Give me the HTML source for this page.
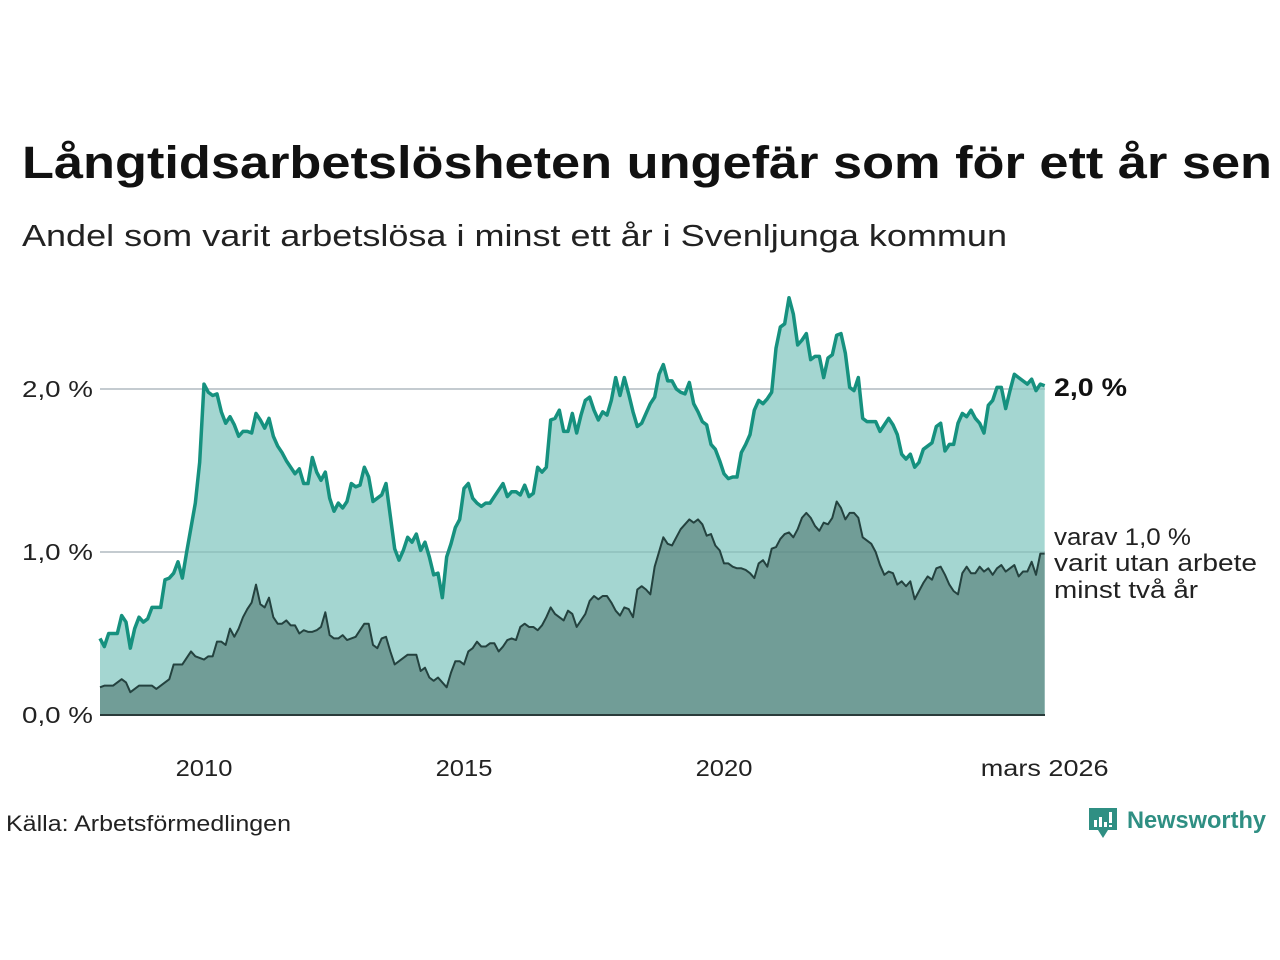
<!DOCTYPE html>
<html><head><meta charset="utf-8"><style>
html,body{margin:0;padding:0;background:#fff;width:1280px;height:960px;overflow:hidden}
svg{display:block;font-family:"Liberation Sans",sans-serif}
</style></head><body>
<svg id="chart" width="1280" height="960" viewBox="0 0 1280 960">
<text x="22" y="178" font-size="45" font-weight="bold" fill="#111" textLength="1250" lengthAdjust="spacingAndGlyphs">Långtidsarbetslösheten ungefär som för ett år sen</text>
<text x="22" y="246" font-size="31" fill="#222" textLength="985" lengthAdjust="spacingAndGlyphs">Andel som varit arbetslösa i minst ett år i Svenljunga kommun</text>
<g id="grid"></g>
<g id="areas"></g>
<g id="yticks"></g>
<g id="xticks"></g>
<text x="1054" y="396" font-size="25" font-weight="bold" fill="#111" textLength="73" lengthAdjust="spacingAndGlyphs">2,0 %</text>
<g font-size="24" fill="#222">
<text x="1054" y="545" textLength="137" lengthAdjust="spacingAndGlyphs">varav 1,0 %</text>
<text x="1054" y="571" textLength="203" lengthAdjust="spacingAndGlyphs">varit utan arbete</text>
<text x="1054" y="598" textLength="144" lengthAdjust="spacingAndGlyphs">minst två år</text>
</g>
<text x="6" y="831" font-size="22" fill="#222" textLength="285" lengthAdjust="spacingAndGlyphs">Källa: Arbetsförmedlingen</text>
<g>
<path d="M1089 808 h28 v22 h-9 l-5 8 l-5 -8 h-9 z" fill="#2f8f83"/>
<rect x="1094" y="820" width="3" height="7" fill="#fff"/><rect x="1099" y="817" width="3" height="10" fill="#fff"/><rect x="1104" y="822" width="3" height="5" fill="#fff"/><rect x="1109" y="812" width="3" height="11" fill="#fff"/><rect x="1109" y="825" width="3" height="2" fill="#fff"/>
<text x="1127" y="828" font-size="24" font-weight="bold" fill="#2f8f83" textLength="139" lengthAdjust="spacingAndGlyphs">Newsworthy</text>
</g>
</svg>
<script>
const startYear = 2008;
const totalValues = [
.47,.42,.50,.50,.50,.61,.57,.41,.53,.60,.57,.59,
.66,.66,.66,.83,.84,.87,.94,.84,1.00,1.15,1.30,1.55,
2.03,1.98,1.96,1.97,1.86,1.79,1.83,1.78,1.71,1.74,1.74,1.73,
1.85,1.81,1.76,1.82,1.71,1.65,1.61,1.56,1.52,1.48,1.51,1.42,
1.42,1.58,1.49,1.44,1.49,1.33,1.25,1.30,1.27,1.31,1.42,1.40,
1.41,1.52,1.46,1.31,1.33,1.35,1.42,1.22,1.02,0.95,1.01,1.09,
1.06,1.11,1.01,1.06,0.97,0.86,0.87,0.72,0.97,1.05,1.15,1.20,
1.39,1.42,1.33,1.30,1.28,1.30,1.30,1.34,1.38,1.42,1.34,1.37,
1.37,1.35,1.41,1.34,1.36,1.52,1.49,1.52,1.81,1.82,1.87,1.74,
1.74,1.85,1.73,1.84,1.93,1.95,1.87,1.81,1.86,1.84,1.93,2.07,
1.96,2.07,1.97,1.86,1.77,1.79,1.85,1.91,1.95,2.09,2.15,2.05,
2.05,2.00,1.98,1.97,2.04,1.91,1.86,1.80,1.78,1.66,1.63,1.56,
1.48,1.45,1.46,1.46,1.61,1.66,1.72,1.87,1.93,1.91,1.94,1.98,
2.25,2.38,2.40,2.56,2.46,2.27,2.30,2.34,2.18,2.20,2.20,2.07,
2.19,2.21,2.33,2.34,2.22,2.01,1.99,2.07,1.82,1.80,1.80,1.80,
1.74,1.78,1.82,1.78,1.72,1.60,1.57,1.60,1.52,1.55,1.63,1.65,
1.67,1.77,1.79,1.62,1.66,1.66,1.79,1.85,1.83,1.87,1.82,1.79,
1.73,1.90,1.93,2.01,2.01,1.88,1.99,2.09,2.07,2.05,2.03,2.06,
1.99,2.03,2.02];
const longValues = [
.17,.18,.18,.18,.20,.22,.20,.14,.16,.18,.18,.18,
.18,.16,.18,.20,.22,.31,.31,.31,.35,.39,.36,.35,
.34,.36,.36,.45,.45,.43,.53,.48,.53,.60,.65,.69,
.80,.68,.66,.72,.60,.56,.56,.58,.55,.55,.50,.52,
.51,.51,.52,.54,.63,.49,.47,.47,.49,.46,.47,.48,
.52,.56,.56,.43,.41,.47,.48,.39,.31,.33,.35,.37,
.37,.37,.27,.29,.23,.21,.23,.20,.17,.26,.33,.33,
.31,.39,.41,.45,.42,.42,.44,.44,.39,.42,.46,.47,
.46,.54,.56,.54,.54,.52,.55,.60,.66,.62,.60,.58,
.64,.62,.54,.58,.62,.70,.73,.71,.73,.73,.69,.64,
.61,.66,.65,.60,.77,.79,.77,.74,.91,1.00,1.09,1.05,
1.04,1.09,1.14,1.17,1.20,1.18,1.20,1.17,1.10,1.11,1.04,1.01,
.93,.93,.91,.90,.90,.89,.87,.84,.93,.95,.91,1.02,
1.03,1.08,1.11,1.12,1.09,1.14,1.21,1.24,1.21,1.16,1.13,1.18,
1.17,1.21,1.31,1.27,1.20,1.24,1.24,1.21,1.09,1.07,1.05,1.00,
.92,.86,.88,.87,.80,.82,.79,.82,.71,.76,.81,.85,
.83,.90,.91,.86,.80,.76,.74,.87,.91,.87,.87,.91,
.88,.90,.86,.90,.92,.88,.90,.92,.85,.88,.88,.94,
.86,.99,.99];
const yTickValues = [0, 1, 2];
const yTickLabels = ["0,0 %", "1,0 %", "2,0 %"];
const xTickPositions = [2010, 2015, 2020, 2026.167];
const xTickLabels = ["2010", "2015", "2020", "mars 2026"];

const NS = "http://www.w3.org/2000/svg";
const X0 = 100, PX_PER_YEAR = 52, Y0 = 715, PX_PER_UNIT = 163;
const xScale = t => X0 + (t - startYear) * PX_PER_YEAR;
const xIdx = i => xScale(startYear + i / 12);
const yScale = v => Y0 - v * PX_PER_UNIT;
function mk(tag, attrs, parent){const e=document.createElementNS(NS,tag);for(const k in attrs)e.setAttribute(k,attrs[k]);parent.appendChild(e);return e;}

const grid = document.getElementById('grid');
const yt = document.getElementById('yticks');
yTickValues.forEach((v, i) => {
  if (v > 0) {
    const gl = mk('line', {x1: X0, x2: 1045, y1: yScale(v), y2: yScale(v), stroke: '#dedde3', 'stroke-width': 2}, grid);
    
    
  }
  const t = mk('text', {x: 93, y: yScale(v) + 8, 'text-anchor': 'end', 'font-size': 23, fill: '#222', textLength: 71, lengthAdjust: 'spacingAndGlyphs'}, yt);
  t.textContent = yTickLabels[i];
  
  
});
const xt = document.getElementById('xticks');
xTickPositions.forEach((p, i) => {
  const w = xTickLabels[i].length * 14.2;
  const t = mk('text', {x: xScale(p), y: 776, 'text-anchor': 'middle', 'font-size': 23, fill: '#222', textLength: w, lengthAdjust: 'spacingAndGlyphs'}, xt);
  t.textContent = xTickLabels[i];
  
  
});

const areas = document.getElementById('areas');
function linePts(vals){return vals.map((v,i)=>xIdx(i).toFixed(2)+','+yScale(v).toFixed(2)).join(' ');}
function areaPts(vals){return xIdx(0)+','+Y0+' '+linePts(vals)+' '+xIdx(vals.length-1)+','+Y0;}
const a1 = mk('polygon', {points: areaPts(totalValues), fill: '#a4d6d1'}, areas);


const a2 = mk('polygon', {points: areaPts(longValues), fill: '#719d97'}, areas);


yTickValues.forEach(v => {
  if (v > 0) {
    const gl = mk('line', {x1: X0, x2: 1045, y1: yScale(v), y2: yScale(v), stroke: 'rgba(80,120,120,0.18)', 'stroke-width': 2}, areas);
    
    
  }
});
const l2 = mk('polyline', {points: linePts(longValues), fill: 'none', stroke: '#24423f', 'stroke-width': 2, 'stroke-linejoin': 'round'}, areas);


const l1 = mk('polyline', {points: linePts(totalValues), fill: 'none', stroke: '#16917f', 'stroke-width': 3.5, 'stroke-linejoin': 'round'}, areas);


const base = mk('line', {x1: X0, x2: 1045, y1: Y0, y2: Y0, stroke: '#2a3b3a', 'stroke-width': 2}, areas);


</script>
</body></html>
